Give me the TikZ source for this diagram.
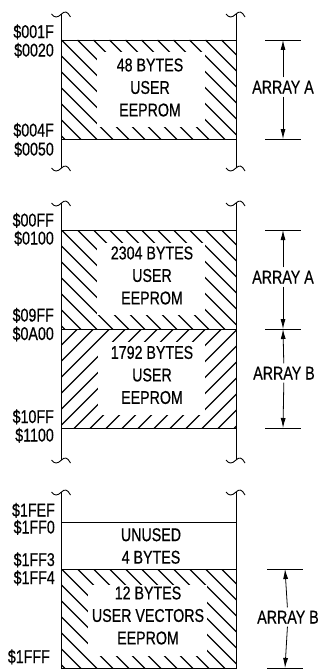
\documentclass[tikz,border=0pt]{standalone}
\usepackage{fontspec}
\setmainfont[FakeStretch=0.77,FakeBold=0.5]{Liberation Sans}
\usetikzlibrary{arrows.meta}
\newcommand\hatchback[8]{%
  \begin{scope}
    \clip (#1,#2) rectangle (#3,#4);
    \foreach \c in {-96,-80,...,176} {\draw[hatch] (#1+\c,#2) -- ++(130,130);}
  \end{scope}
  \fill[white] (#5,#6) rectangle (#7,#8);
}
\newcommand\hatchfwd[8]{%
  \begin{scope}
    \clip (#1,#2) rectangle (#3,#4);
    \foreach \c in {0,16,...,288} {\draw[hatch] (#1+\c,#2) -- ++(-130,130);}
  \end{scope}
  \fill[white] (#5,#6) rectangle (#7,#8);
}
\begin{document}
\begin{tikzpicture}[x=1pt,y=-1pt,
  line/.style={line width=0.9pt},
  hatch/.style={line width=1.35pt},
  addr/.style={anchor=east,inner sep=0pt,font=\fontsize{18.5}{20}\selectfont,text height=13pt,text depth=0pt},
  boxtxt/.style={align=center,inner sep=0pt,font=\fontsize{18.5}{22.5}\selectfont},
  dimlbl/.style={inner xsep=0pt,inner ysep=3pt,font=\fontsize{18.5}{20}\selectfont,text height=13pt,text depth=0pt},
  dimarr/.style={line width=0.8pt,-{Latex[length=10pt,width=5pt]}},
  brk/.pic={\draw[line width=0.9pt] (-10,0) .. controls (-7,4) and (-4,4) .. (0,0) .. controls (3,-3) and (6,-3) .. (9,3);}
]
\useasboundingbox (0,0) rectangle (320,669);

% ===== Section 1 =====
\hatchback{61.5}{40}{236}{139}{97}{52}{205}{127}
\draw[line] (61.5,40) rectangle (236,139);
\draw[line] (61.5,14) -- (61.5,168);
\draw[line] (236,14) -- (236,168);
\pic at (61.5,14) {brk}; \pic at (236,14) {brk};
\pic at (61.5,168) {brk}; \pic at (236,168) {brk};
\node[boxtxt] (t1) at (150,87.5) {48 BYTES\\USER\\EEPROM};
\node[addr] (l1) at (54,31.5) {\$001F};
\node[addr] (l2) at (54,50) {\$0020};
\node[addr] (l3) at (54,130) {\$004F};
\node[addr] (l4) at (54,149) {\$0050};
\coordinate (a1t) at (283,40);
\coordinate (a1b) at (283,139);
\draw[line] ([xshift=-18pt]a1t) -- ([xshift=18pt]a1t);
\draw[line] ([xshift=-18pt]a1b) -- ([xshift=18pt]a1b);
\node[dimlbl] (d1) at (283,87) {ARRAY A};
\draw[dimarr] (d1) -- (a1t);
\draw[dimarr] (d1) -- (a1b);

% ===== Section 2 =====
\hatchback{61.5}{230}{236}{329}{97}{243}{205}{315}
\hatchfwd{61.5}{329}{236}{428}{98}{342}{205}{415}
\draw[line] (61.5,230) rectangle (236,428);
\draw[line] (61.5,329) -- (236,329);
\draw[line] (61.5,203) -- (61.5,460);
\draw[line] (236,203) -- (236,460);
\pic at (61.5,203) {brk}; \pic at (236,203) {brk};
\pic at (61.5,460) {brk}; \pic at (236,460) {brk};
\node[boxtxt] (t2) at (152,275.5) {2304 BYTES\\USER\\EEPROM};
\node[boxtxt] (t3) at (152,375) {1792 BYTES\\USER\\EEPROM};
\node[addr] (l5) at (54,220) {\$00FF};
\node[addr] (l6) at (54,238) {\$0100};
\node[addr] (l7) at (54,315) {\$09FF};
\node[addr] (l8) at (54,333.5) {\$0A00};
\node[addr] (l9) at (54,416.5) {\$10FF};
\node[addr] (l10) at (54,435) {\$1100};
\coordinate (a2t) at (283,230);
\coordinate (a2m) at (283,329);
\coordinate (a2b) at (283,428);
\draw[line] ([xshift=-18pt]a2t) -- ([xshift=18pt]a2t);
\draw[line] ([xshift=-18pt]a2m) -- ([xshift=18pt]a2m);
\draw[line] ([xshift=-18pt]a2b) -- ([xshift=18pt]a2b);
\node[dimlbl] (d2) at (283,277) {ARRAY A};
\node[dimlbl] (d3) at (284,373) {ARRAY B};
\draw[dimarr] (d2) -- (a2t);
\draw[dimarr] (d2) -- (a2m);
\draw[dimarr] (d3) -- (a2m);
\draw[dimarr] (d3) -- (a2b);

% ===== Section 3 =====
\hatchback{61.5}{569}{236}{668}{88}{585}{207}{656}
\draw[line] (61.5,522) -- (236,522);
\draw[line] (61.5,569) rectangle (236,668);
\draw[line] (61.5,492) -- (61.5,668);
\draw[line] (236,492) -- (236,668);
\pic at (61.5,492) {brk}; \pic at (236,492) {brk};
\node[boxtxt] (t4) at (151,546) {UNUSED\\4 BYTES};
\node[boxtxt] (t5) at (148,615.5) {12 BYTES\\USER VECTORS\\EEPROM};
\node[addr] (l11) at (55,510) {\$1FEF};
\node[addr] (l12) at (55,527) {\$1FF0};
\node[addr] (l13) at (55,559.5) {\$1FF3};
\node[addr] (l14) at (55,577.5) {\$1FF4};
\node[addr] (l15) at (50,656.5) {\$1FFF};
\coordinate (a3t) at (285,569);
\coordinate (a3b) at (285,668);
\draw[line] ([xshift=-18pt]a3t) -- ([xshift=18pt]a3t);
\draw[line] ([xshift=-18pt]a3b) -- ([xshift=18pt]a3b);
\node[dimlbl] (d4) at (288,617) {ARRAY B};
\draw[dimarr] (d4) -- (a3t);
\draw[dimarr] (d4) -- (a3b);
\end{tikzpicture}
\end{document}
